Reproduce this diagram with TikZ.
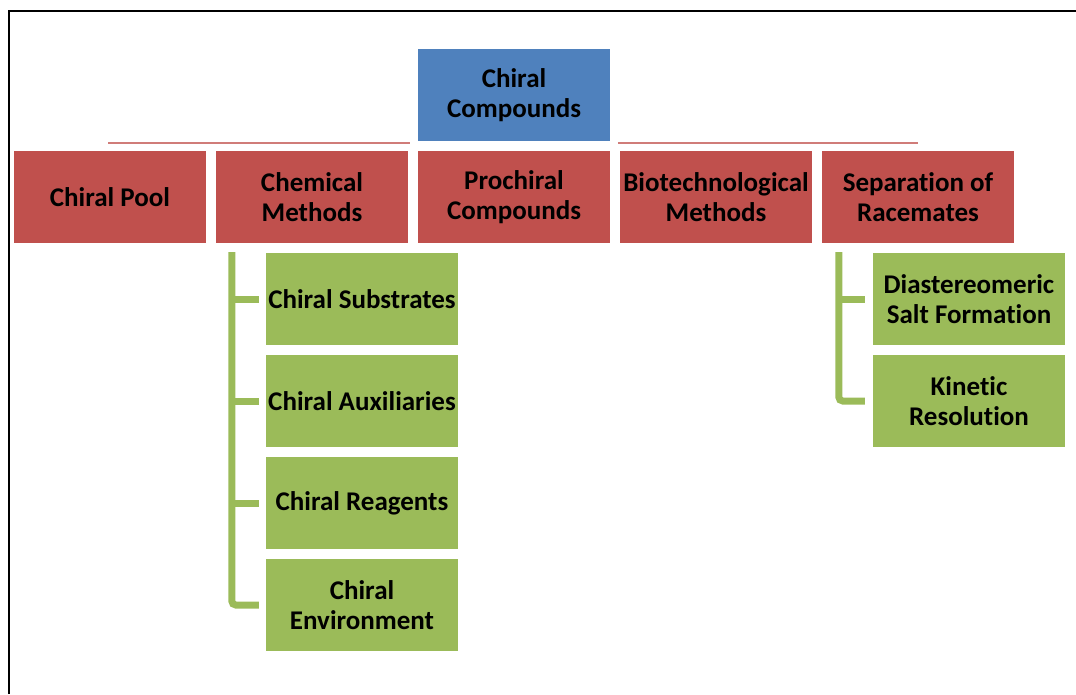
\documentclass[tikz,border=0pt]{standalone}
\usepackage{fontspec}
\setmainfont{Carlito}[Ligatures=CommonOff]
\usepackage{tikz}
\usetikzlibrary{positioning,calc}

\definecolor{rootblue}{HTML}{4F81BD}
\definecolor{catred}{HTML}{C0504D}
\definecolor{subgreen}{HTML}{9BBB59}

\begin{document}
\begin{tikzpicture}[x=1pt, y=-1pt,
  cbox/.style={rectangle, minimum width=192pt, minimum height=92pt, inner sep=0pt, align=center, text=black, font={\bfseries\fontsize{27}{30}\selectfont}},
  rootbox/.style={cbox, fill=rootblue},
  catbox/.style={cbox, fill=catred},
  subbox/.style={cbox, fill=subgreen},
  hubline/.style={draw=catred!75, line width=1.6pt},
  bracket/.style={draw=subgreen, line width=7pt, rounded corners=4pt}
]
\useasboundingbox (0,0) rectangle (1076,694);
\draw[line width=2.4pt] (9,694) -- (9,11) -- (1076,11);

\node[rootbox] (root) at (514,95) {Chiral\\Compounds};

\node[catbox] (pool) at (110,197) {Chiral Pool};
\node[catbox] (chem) at (312,197) {Chemical\\Methods};
\node[catbox] (pro) at (514,197) {Prochiral\\Compounds};
\node[catbox] (bio) at (716,197) {Biotechnological\\Methods};
\node[catbox] (sep) at (918,197) {Separation of\\Racemates};

\node[subbox] (subs) at (362,299) {Chiral Substrates};
\node[subbox] (aux) at (362,401) {Chiral Auxiliaries};
\node[subbox] (reag) at (362,503) {Chiral Reagents};
\node[subbox] (env) at (362,605) {Chiral\\Environment};

\node[subbox] (salt) at (969,299) {Diastereomeric\\Salt Formation};
\node[subbox] (kin) at (969,401) {Kinetic\\Resolution};

% links from the root to the categories
\draw[hubline] ($(pool.north)+(-2,-8)$) -- ($(chem.north east)+(2,-8)$);
\draw[hubline] ($(bio.north west)+(-2,-8)$) -- ($(sep.north)+(0,-8)$);

% chemical methods
\coordinate (chemtop) at ($(chem.south west)+(16,9)$);
\draw[bracket] (chemtop) |- ([xshift=-7pt]env.west);
\draw[bracket] (chemtop |- subs.west) -- ([xshift=-7pt]subs.west);
\draw[bracket] (chemtop |- aux.west) -- ([xshift=-7pt]aux.west);
\draw[bracket] (chemtop |- reag.west) -- ([xshift=-7pt]reag.west);

% separation of racemates
\coordinate (septop) at ($(sep.south west)+(17,9)$);
\draw[bracket] (septop) |- ([xshift=-8pt]kin.west);
\draw[bracket] (septop |- salt.west) -- ([xshift=-8pt]salt.west);
\end{tikzpicture}
\end{document}
